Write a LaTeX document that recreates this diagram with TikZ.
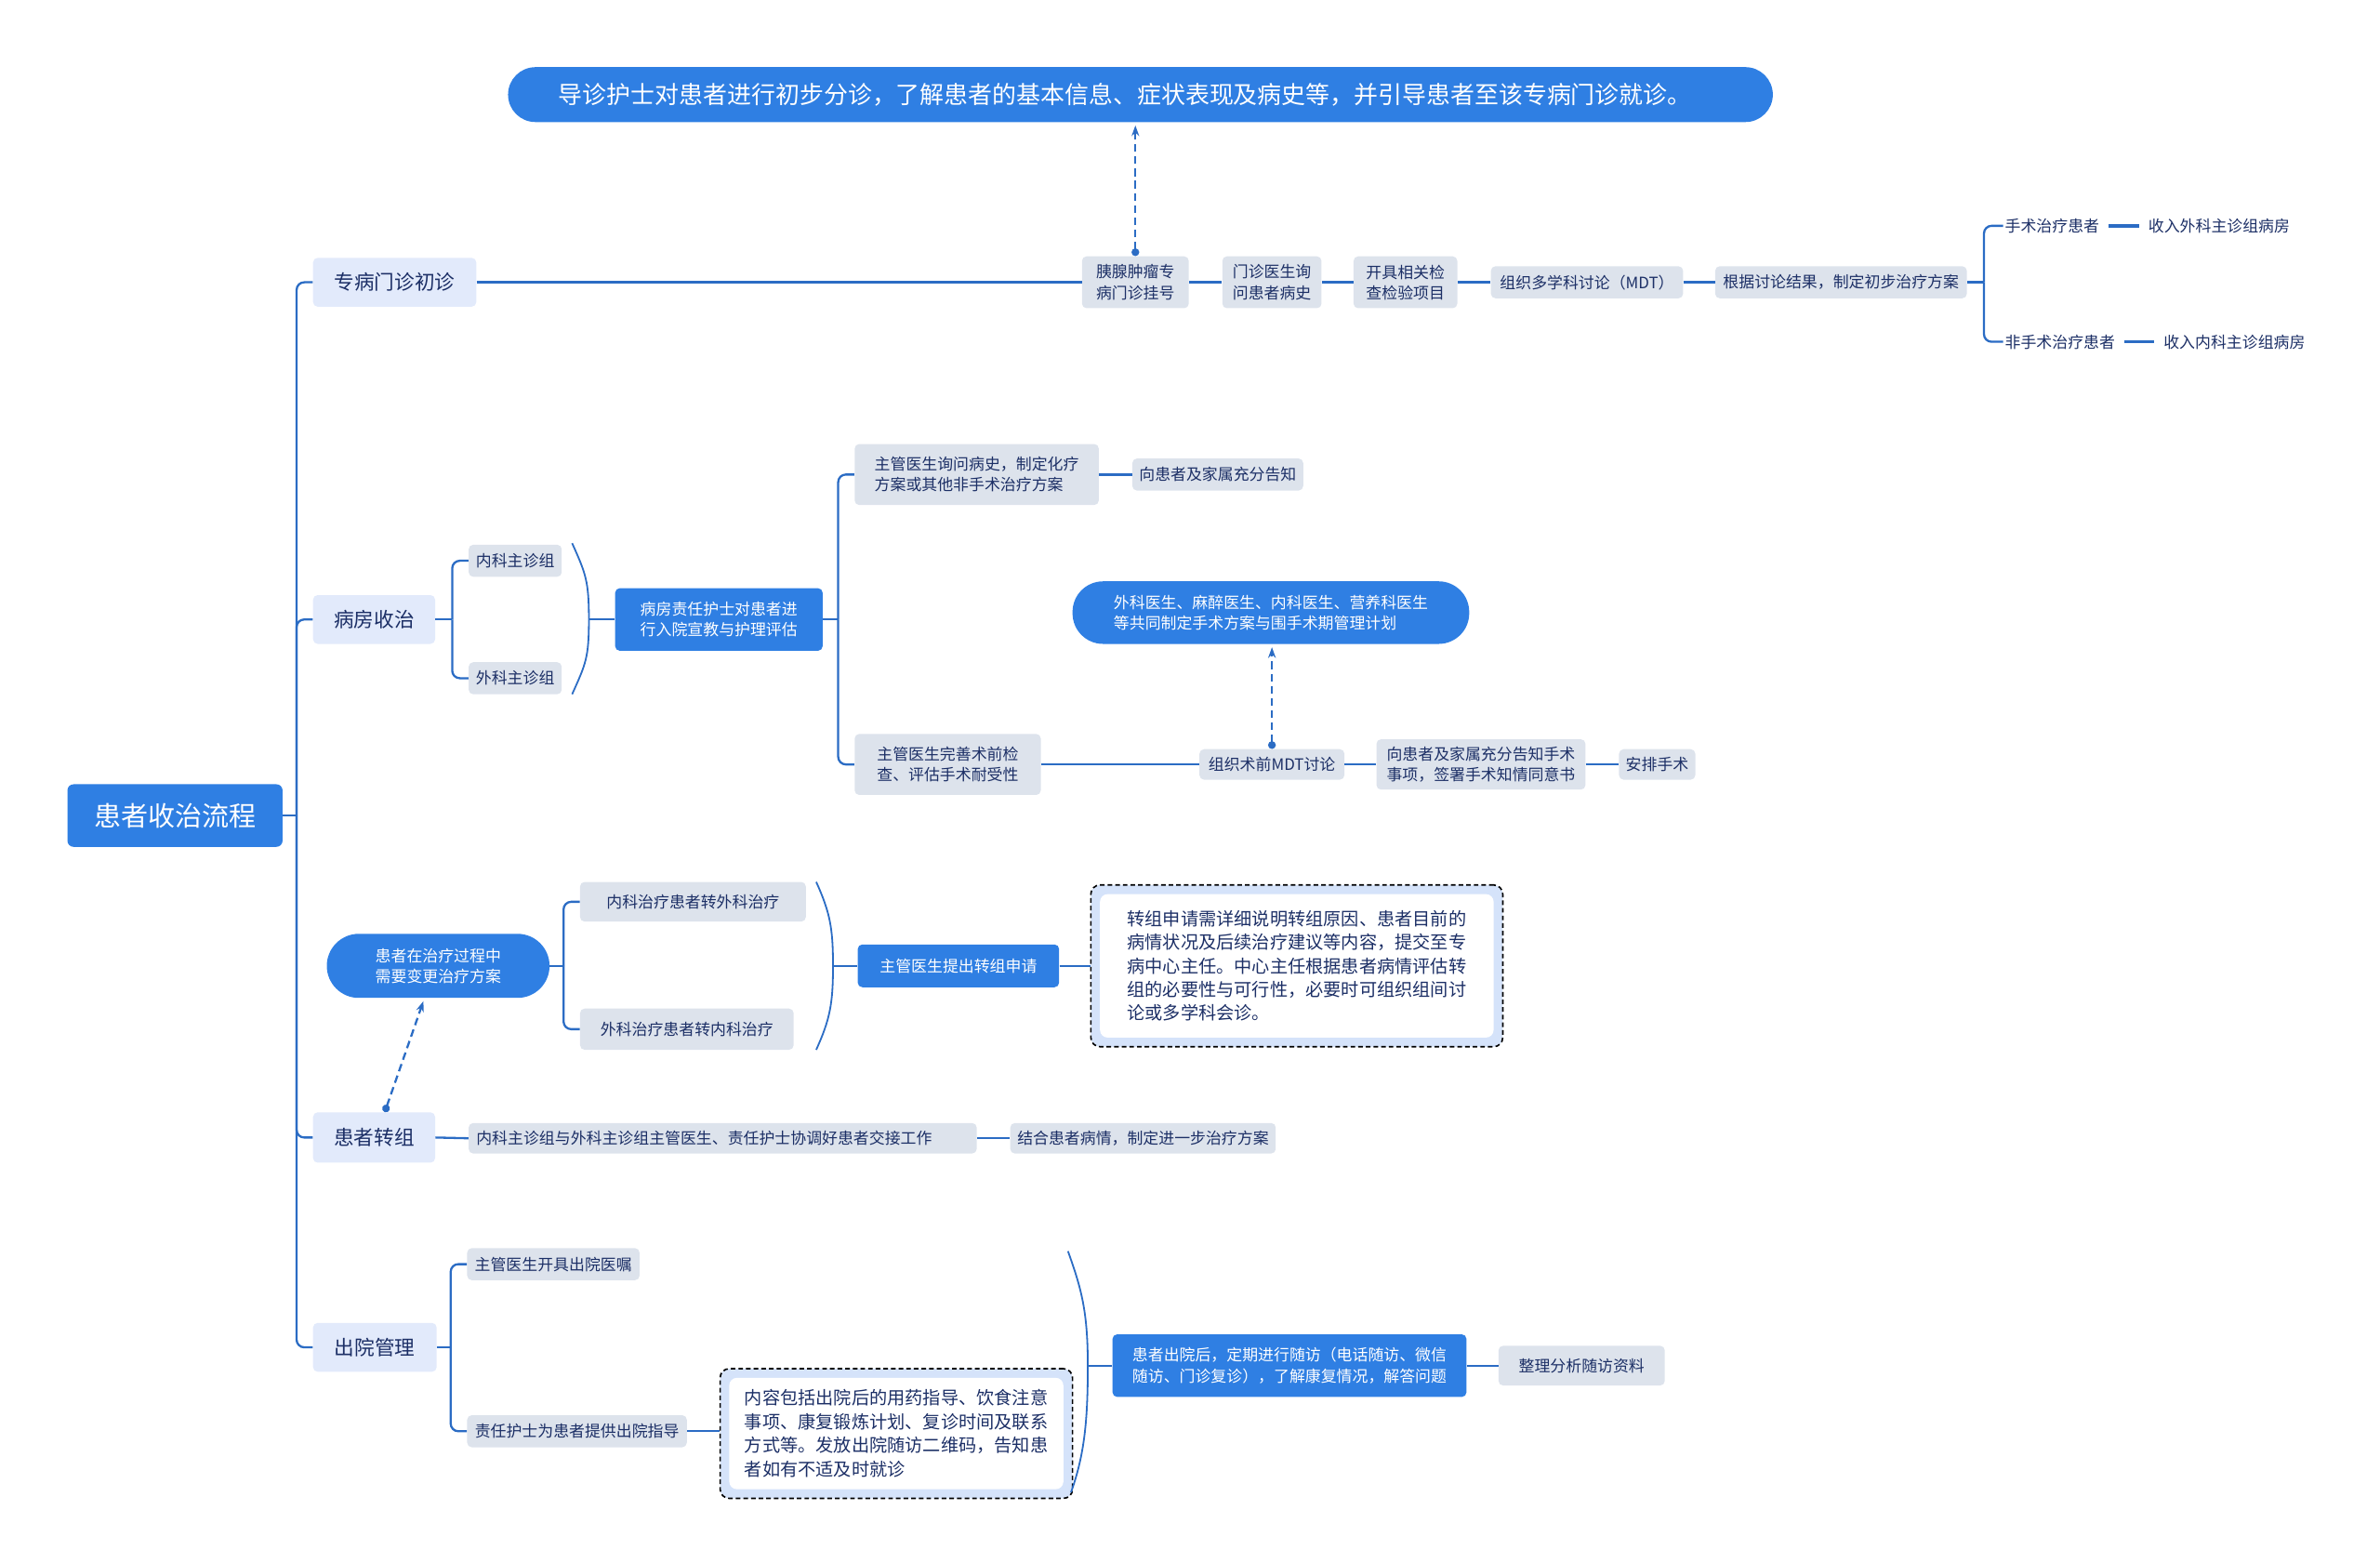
\documentclass[tikz,border=0pt]{standalone}
\usepackage{fontspec}
\setmainfont{Noto Sans CJK SC}
\usetikzlibrary{arrows.meta,calc}
\definecolor{mblue}{HTML}{2F7FE3}
\definecolor{mgray}{HTML}{DDE3EC}
\definecolor{mlvl}{HTML}{E2EAFB}
\definecolor{mnavy}{HTML}{1C2F66}
\definecolor{mline}{HTML}{2B6CC4}
\definecolor{mdash}{HTML}{D5E3FA}
\newcommand\myfs[2]{\fontsize{#1}{#2}\selectfont}
\begin{document}
\begin{tikzpicture}[x=1pt,y=-1pt,
 base/.style={inner sep=0pt, align=left, text=mnavy, font=\myfs{10.3}{13.5}, rounded corners=3pt},
 gbox/.style={base, fill=mgray},
 bbox/.style={base, fill=mblue, text=white},
 lbox/.style={base, fill=mlvl, font=\myfs{13.2}{16}},
 ptext/.style={inner sep=1pt, text=mnavy, font=\myfs{10.3}{13.5}},
 conn/.style={draw=mline, line width=1.4pt},
 bline/.style={draw=mline, line width=1.1pt},
 darr/.style={draw=mline, line width=1.4pt, dash pattern=on 5pt off 3pt, {Circle[length=5pt]}-{Stealth[length=7pt,width=5pt]}},
 dbox/.style={draw=black, line width=1pt, dash pattern=on 3pt off 2pt, fill=mdash, rounded corners=6pt, inner sep=0pt},
 wbox/.style={fill=white, rounded corners=5pt, inner sep=0pt, align=left, text=mnavy, font=\myfs{11.7}{15.5}},
]
\useasboundingbox (0,0) rectangle (1560,1024);

% top and root
\node[bbox, rounded corners=18pt, font=\myfs{15.8}{20}, minimum width=829, minimum height=36] (top) at (747.5,62) {导诊护士对患者进行初步分诊，了解患者的基本信息、症状表现及病史等，并引导患者至该专病门诊就诊。\hspace*{20pt}};
\node[bbox, rounded corners=4pt, font=\myfs{17.7}{20}, minimum width=141, minimum height=41, anchor=west] (root) at (44,534.5) {患者收治流程};

% level 1
\node[lbox, minimum width=107, minimum height=32, anchor=west] (l1a) at (205,185) {专病门诊初诊};
\node[lbox, minimum width=80, minimum height=32, anchor=west] (l1b) at (205,406) {病房收治};
\node[lbox, minimum width=80, minimum height=33, anchor=west] (l1c) at (205,745.5) {患者转组};
\node[lbox, minimum width=81, minimum height=32, anchor=west] (l1d) at (205,883) {出院管理};

% branch a
\node[gbox, minimum width=70, minimum height=34, anchor=west] (a1) at (709,185) {胰腺肿瘤专\\病门诊挂号};
\node[gbox, minimum width=65, minimum height=34, anchor=west] (a2) at (801,185) {门诊医生询\\问患者病史};
\node[gbox, minimum width=68, minimum height=34, anchor=west] (a3) at (887,185) {开具相关检\\查检验项目};
\node[gbox, minimum width=126, minimum height=21, anchor=west] (a4) at (977,185) {组织多学科讨论（MDT）};
\node[gbox, minimum width=165, minimum height=21, anchor=west] (a5) at (1124,185) {根据讨论结果，制定初步治疗方案};
\node[ptext, anchor=west] (a6) at (1313,148) {手术治疗患者};
\node[ptext, anchor=west] (a7) at (1407,148) {收入外科主诊组病房};
\node[ptext, anchor=west] (a8) at (1313,224) {非手术治疗患者};
\node[ptext, anchor=west] (a9) at (1417,224) {收入内科主诊组病房};

% branch b
\node[gbox, minimum width=61, minimum height=21, anchor=west] (b1) at (307,367.5) {内科主诊组};
\node[gbox, minimum width=61, minimum height=21, anchor=west] (b2) at (307,444.5) {外科主诊组};
\node[bbox, minimum width=136, minimum height=41, anchor=west] (b3) at (403,406) {病房责任护士对患者进\\行入院宣教与护理评估};
\node[gbox, minimum width=160, minimum height=40, anchor=west] (b4) at (560,311) {主管医生询问病史，制定化疗\\方案或其他非手术治疗方案};
\node[gbox, minimum width=112, minimum height=21, anchor=west] (b5) at (742,311) {向患者及家属充分告知};
\node[gbox, minimum width=122, minimum height=40, anchor=west] (b6) at (560,501) {主管医生完善术前检\\查、评估手术耐受性};
\node[gbox, minimum width=95, minimum height=20, anchor=west] (b7) at (786,501) {组织术前MDT讨论};
\node[gbox, minimum width=137, minimum height=33, anchor=west] (b8) at (902,501) {向患者及家属充分告知手术\\事项，签署手术知情同意书};
\node[gbox, minimum width=50, minimum height=20, anchor=west] (b9) at (1061,501) {安排手术};
\node[bbox, rounded corners=20pt, minimum width=260, minimum height=41] (b10) at (833,401.5) {外科医生、麻醉医生、内科医生、营养科医生\\等共同制定手术方案与围手术期管理计划};

% branch c
\node[bbox, rounded corners=21pt, minimum width=146, minimum height=42, anchor=west] (c1) at (214,633) {患者在治疗过程中\\需要变更治疗方案};
\node[gbox, minimum width=148, minimum height=26, anchor=west] (c2) at (380,591) {内科治疗患者转外科治疗};
\node[gbox, minimum width=140, minimum height=27, anchor=west] (c3) at (380,674.5) {外科治疗患者转内科治疗};
\node[bbox, minimum width=132, minimum height=28, anchor=west] (c4) at (562,633) {主管医生提出转组申请};
\node[dbox, minimum width=270, minimum height=106] (c5) at (850,633) {};
\node[wbox, minimum width=258, minimum height=94] (c5t) at (850,633) {转组申请需详细说明转组原因、患者目前的\\病情状况及后续治疗建议等内容，提交至专\\病中心主任。中心主任根据患者病情评估转\\组的必要性与可行性，必要时可组织组间讨\\论或多学科会诊。\hspace*{6pt}};
\node[gbox, minimum width=333, minimum height=20, text width=323, inner xsep=5pt, anchor=west] (c6) at (307,746) {内科主诊组与外科主诊组主管医生、责任护士协调好患者交接工作};
\node[gbox, minimum width=174, minimum height=20, anchor=west] (c7) at (662,746) {结合患者病情，制定进一步治疗方案};

% branch d
\node[gbox, minimum width=113, minimum height=21, anchor=west] (d1) at (306,828.5) {主管医生开具出院医嘱};
\node[gbox, minimum width=144, minimum height=21, anchor=west] (d2) at (306,938) {责任护士为患者提供出院指导};
\node[dbox, minimum width=231, minimum height=85] (d3) at (587.5,939.5) {};
\node[wbox, minimum width=219, minimum height=73] (d3t) at (587.5,939.5) {内容包括出院后的用药指导、饮食注意\\事项、康复锻炼计划、复诊时间及联系\\方式等。发放出院随访二维码，告知患\\者如有不适及时就诊};
\node[bbox, minimum width=232, minimum height=41, anchor=west] (d4) at (729,895) {患者出院后，定期进行随访（电话随访、微信\\随访、门诊复诊），了解康复情况，解答问题};
\node[gbox, minimum width=109, minimum height=26, anchor=west] (d5) at (982,895) {整理分析随访资料};

% trunk
\coordinate (jr) at ($(root.east)+(9,0)$);
\draw[conn] (root.east) -- (jr);
\foreach \n in {l1a,l1b,l1c,l1d} \draw[conn, rounded corners=5pt] (jr) |- (\n.west);

% branch a connectors
\draw[conn] (l1a.east) -- (a1.west);
\draw[conn] (a1.east) -- (a2.west);
\draw[conn] (a2.east) -- (a3.west);
\draw[conn] (a3.east) -- (a4.west);
\draw[conn] (a4.east) -- (a5.west);
\coordinate (ja) at ($(a5.east)+(11,0)$);
\draw[conn] (a5.east) -- (ja);
\draw[conn, rounded corners=5pt] (ja) |- (a6.west);
\draw[conn, rounded corners=5pt] (ja) |- (a8.west);
\draw[conn, line width=2pt, shorten <=5pt, shorten >=5pt] (a6.east) -- (a7.west);
\draw[conn, line width=2pt, shorten <=5pt, shorten >=5pt] (a8.east) -- (a9.west);
\draw[darr, shorten >=2pt] (a1.north) -- (a1.north |- top.south);

% branch b connectors
\coordinate (jb) at ($(l1b.east)+(11,0)$);
\draw[conn] (l1b.east) -- (jb);
\draw[conn, rounded corners=5pt] (jb) |- (b1.west);
\draw[conn, rounded corners=5pt] (jb) |- (b2.west);
\coordinate (k1t) at (375,356);
\coordinate (k1m) at (386,406);
\coordinate (k1b) at (375,455);
\draw[bline] (k1t) .. controls +(9,20) and +(0,-25) .. (k1m) .. controls +(0,25) and +(9,-20) .. (k1b);
\draw[conn] (k1m) -- (b3.west);
\coordinate (jb2) at ($(b3.east)+(10,0)$);
\draw[conn] (b3.east) -- (jb2);
\draw[conn, rounded corners=5pt] (jb2) |- (b4.west);
\draw[conn, rounded corners=5pt] (jb2) |- (b6.west);
\draw[conn] (b4.east) -- (b5.west);
\draw[conn] (b6.east) -- (b7.west);
\draw[conn] (b7.east) -- (b8.west);
\draw[conn] (b8.east) -- (b9.west);
\draw[darr, shorten >=2pt] (b7.north) -- (b7.north |- b10.south);

% branch c connectors
\draw[conn] (l1c.east) -- (c6.west);
\draw[conn] (c6.east) -- (c7.west);
\draw[darr, shorten >=2pt] ([xshift=7pt]l1c.north) -- ([xshift=-9pt]c1.south);
\coordinate (jc) at ($(c1.east)+(9,0)$);
\draw[conn] (c1.east) -- (jc);
\draw[conn, rounded corners=5pt] (jc) |- (c2.west);
\draw[conn, rounded corners=5pt] (jc) |- (c3.west);
\coordinate (k2t) at (535,578);
\coordinate (k2m) at (546,633);
\coordinate (k2b) at (535,688);
\draw[bline] (k2t) .. controls +(9,20) and +(0,-25) .. (k2m) .. controls +(0,25) and +(9,-20) .. (k2b);
\draw[conn] (k2m) -- (c4.west);
\draw[conn] (c4.east) -- (c5.west);

% branch d connectors
\coordinate (jd) at ($(l1d.east)+(9,0)$);
\draw[conn] (l1d.east) -- (jd);
\draw[conn, rounded corners=5pt] (jd) |- (d1.west);
\draw[conn, rounded corners=5pt] (jd) |- (d2.west);
\draw[conn] (d2.east) -- (d2.east -| d3.west);
\coordinate (k3t) at (700,820);
\coordinate (k3m) at (713,895);
\coordinate (k3b) at (702,978);
\draw[bline] (k3t) .. controls +(9,25) and +(0,-35) .. (k3m) .. controls +(0,35) and +(9,-25) .. (k3b);
\draw[conn] (k3m) -- (d4.west);
\draw[conn] (d4.east) -- (d5.west);
\end{tikzpicture}
\end{document}
